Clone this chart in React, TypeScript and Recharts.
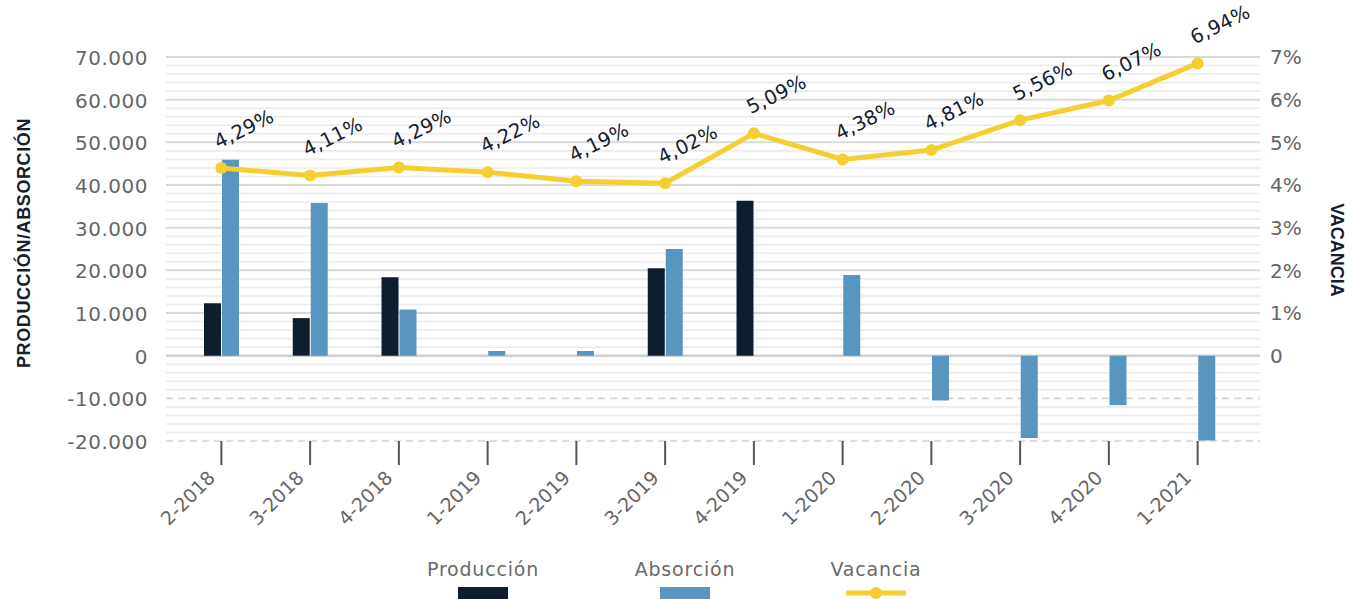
import React from 'react';
import {
  ComposedChart,
  Bar,
  Line,
  XAxis,
  YAxis,
  CartesianGrid,
  Legend,
  LabelList,
} from 'recharts';

// ---------- data ----------
const categories = [
  '2-2018', '3-2018', '4-2018', '1-2019', '2-2019', '3-2019',
  '4-2019', '1-2020', '2-2020', '3-2020', '4-2020', '1-2021',
];
const produccion = [12300, 8800, 18400, 0, 0, 20500, 36300, 0, 0, 0, 0, 0];
const absorcion = [45900, 35800, 10800, 1100, 1100, 25000, 0, 18900, -10500, -19300, -11600, -19900];
const vacancia = [4.4, 4.22, 4.41, 4.3, 4.09, 4.04, 5.21, 4.6, 4.82, 5.52, 5.98, 6.85];
const vacanciaLabels = [
  '4,29%', '4,11%', '4,29%', '4,22%', '4,19%', '4,02%',
  '5,09%', '4,38%', '4,81%', '5,56%', '6,07%', '6,94%',
];

const leftTicks = [-20000, -10000, 0, 10000, 20000, 30000, 40000, 50000, 60000, 70000];
const leftTickLabels = ['-20.000', '-10.000', '0', '10.000', '20.000', '30.000', '40.000', '50.000', '60.000', '70.000'];
const rightTicks = [0, 1, 2, 3, 4, 5, 6, 7];
const rightTickLabels = ['0', '1%', '2%', '3%', '4%', '5%', '6%', '7%'];

// grid line values (left axis units)
const majorGridValues = [10000, 20000, 30000, 40000, 50000, 60000, 70000];
const dashedGridValues = [-10000, -20000];
const zeroGridValues = [0];
const minorGridValues: number[] = [];
for (let v = -18000; v < 70000; v += 2000) {
  if (v % 10000 !== 0) minorGridValues.push(v);
}

const data = categories.map((c, i) => ({
  categoria: c,
  produccion: produccion[i],
  absorcion: absorcion[i],
  vacancia: vacancia[i],
}));

// ---------- styles ----------
const C_PROD = '#0f1e2f';
const C_ABS = '#5896c0';
const C_VAC = '#f5cf30';
const C_TICK = '#666666';
const C_DARK = '#15202e';
const FONT = '"DejaVu Sans", sans-serif';
const BOLD_FONT = '"Liberation Sans", Arial, sans-serif';

const XTick = (props: any) => {
  const { x, y, payload } = props;
  return (
    <g transform={`translate(${x - 5},${y + 12})`}>
      <text
        x={0}
        y={0}
        textAnchor="end"
        transform="rotate(-45)"
        fill={C_TICK}
        fontSize={19}
        fontFamily={FONT}
      >
        {payload.value}
      </text>
    </g>
  );
};

const LeftTick = (props: any) => {
  const { x, y, payload } = props;
  const idx = leftTicks.indexOf(payload.value);
  return (
    <text x={x} y={y} dy="0.4em" textAnchor="end" fill={C_TICK} fontSize={20} fontFamily={FONT} letterSpacing={0.5}>
      {idx >= 0 ? leftTickLabels[idx] : ''}
    </text>
  );
};

const RightTick = (props: any) => {
  const { x, y, payload } = props;
  const idx = rightTicks.indexOf(payload.value);
  return (
    <text x={x} y={y} dy="0.36em" textAnchor="start" fill={C_TICK} fontSize={20} fontFamily={FONT}>
      {idx >= 0 ? rightTickLabels[idx] : ''}
    </text>
  );
};

const VacLabel = (props: any) => {
  const { x, y, index } = props;
  const ax = x - 3;
  const ay = y - 19;
  return (
    <text
      x={ax}
      y={ay}
      transform={`rotate(-26, ${ax}, ${ay})`}
      fontSize={19.5}
      fill={C_DARK}
      fontFamily={FONT}
      letterSpacing={0.3}
    >
      {vacanciaLabels[index]}
    </text>
  );
};

const legendItems = [
  { label: 'Producción', color: C_PROD, kind: 'bar', center: 483 },
  { label: 'Absorción', color: C_ABS, kind: 'bar', center: 685 },
  { label: 'Vacancia', color: C_VAC, kind: 'line', center: 876 },
];

const renderLegend = () => (
  <div style={{ position: 'relative', width: 1353, height: 44 }}>
    {legendItems.map((it) => (
      <div
        key={it.label}
        style={{
          position: 'absolute',
          left: it.center - 100,
          top: 0,
          width: 200,
          textAlign: 'center',
        }}
      >
        <div style={{ fontFamily: FONT, fontSize: 19, color: '#6a6a6a', lineHeight: '24px', letterSpacing: 0.8 }}>
          {it.label}
        </div>
        {it.kind === 'bar' ? (
          <div style={{ width: 50, height: 14, background: it.color, margin: '6px auto 0' }} />
        ) : (
          <svg width={62} height={16} style={{ display: 'block', margin: '3px auto 0' }}>
            <line x1={1} y1={9} x2={61} y2={9} stroke={it.color} strokeWidth={5} />
            <circle cx={31} cy={9} r={6} fill={it.color} />
          </svg>
        )}
      </div>
    ))}
  </div>
);

const LeftLabel = (props: any) => {
  const vb = props.viewBox || { x: 0, y: 57, width: 166, height: 384 };
  const cx = vb.x + 24;
  const cy = vb.y + vb.height / 2 - 6;
  return (
    <text
      x={cx}
      y={cy}
      transform={`rotate(-90, ${cx}, ${cy})`}
      textAnchor="middle"
      dominantBaseline="central"
      fontFamily={BOLD_FONT}
      fontWeight="bold"
      fontSize={18}
      letterSpacing={0.6}
      fill={C_DARK}
    >
      PRODUCCIÓN/ABSORCIÓN
    </text>
  );
};

const RightLabel = (props: any) => {
  const vb = props.viewBox || { x: 1260, y: 57, width: 93, height: 384 };
  const cx = vb.x + 77;
  const cy = vb.y + vb.height / 2 + 1;
  return (
    <text
      x={cx}
      y={cy}
      transform={`rotate(90, ${cx}, ${cy})`}
      textAnchor="middle"
      dominantBaseline="central"
      fontFamily={BOLD_FONT}
      fontWeight="bold"
      fontSize={18}
      fill={C_DARK}
    >
      VACANCIA
    </text>
  );
};

export default function App() {
  return (
    <div style={{ position: 'absolute', left: 0, top: 0, width: 1353, height: 599, background: '#fff' }}>
      <ComposedChart
        width={1353}
        height={599}
        data={data}
        margin={{ top: 57, right: 0, bottom: 0, left: 0 }}
        barSize={17}
        barGap={1}
      >
        <CartesianGrid yAxisId="left" vertical={false} stroke="#ebebeb" strokeWidth={1.6} horizontalValues={minorGridValues} />
        <CartesianGrid yAxisId="left" vertical={false} stroke="#d9d9d9" strokeWidth={2} horizontalValues={majorGridValues} />
        <CartesianGrid
          yAxisId="left"
          vertical={false}
          stroke="#d4d4d4"
          strokeWidth={1.6}
          strokeDasharray="7 5"
          horizontalValues={dashedGridValues}
        />
        <CartesianGrid yAxisId="left" vertical={false} stroke="#d0d0d0" strokeWidth={2.5} horizontalValues={zeroGridValues} />
        <XAxis
          dataKey="categoria"
          height={158}
          axisLine={false}
          tickSize={24}
          tickLine={{ stroke: '#555555', strokeWidth: 2 }}
          tick={<XTick />}
          interval={0}
          padding={{ left: 11, right: 18 }}
        />
        <YAxis
          yAxisId="left"
          orientation="left"
          width={166}
          domain={[-20000, 70000]}
          ticks={leftTicks}
          interval={0}
          axisLine={false}
          tickLine={false}
          tickSize={0}
          tickMargin={18}
          tick={<LeftTick />}
          label={{ content: <LeftLabel /> }}
        />
        <YAxis
          yAxisId="right"
          orientation="right"
          width={93}
          domain={[-2, 7]}
          ticks={rightTicks}
          interval={0}
          axisLine={false}
          tickLine={false}
          tickSize={0}
          tickMargin={10}
          tick={<RightTick />}
          label={{ content: <RightLabel /> }}
        />
        <Bar yAxisId="left" dataKey="produccion" name="Producción" fill={C_PROD} isAnimationActive={false} />
        <Bar yAxisId="left" dataKey="absorcion" name="Absorción" fill={C_ABS} isAnimationActive={false} />
        <Line
          yAxisId="right"
          dataKey="vacancia"
          name="Vacancia"
          stroke={C_VAC}
          strokeWidth={5}
          dot={{ r: 6, fill: C_VAC, stroke: C_VAC, strokeWidth: 0 }}
          activeDot={false}
          isAnimationActive={false}
        >
          <LabelList dataKey="vacancia" content={<VacLabel />} />
        </Line>
        <Legend
          content={renderLegend}
          layout="horizontal"
          verticalAlign="middle"
          align="center"
          wrapperStyle={{ top: 557, left: 0, width: 1353, height: 44 }}
        />
      </ComposedChart>
    </div>
  );
}
